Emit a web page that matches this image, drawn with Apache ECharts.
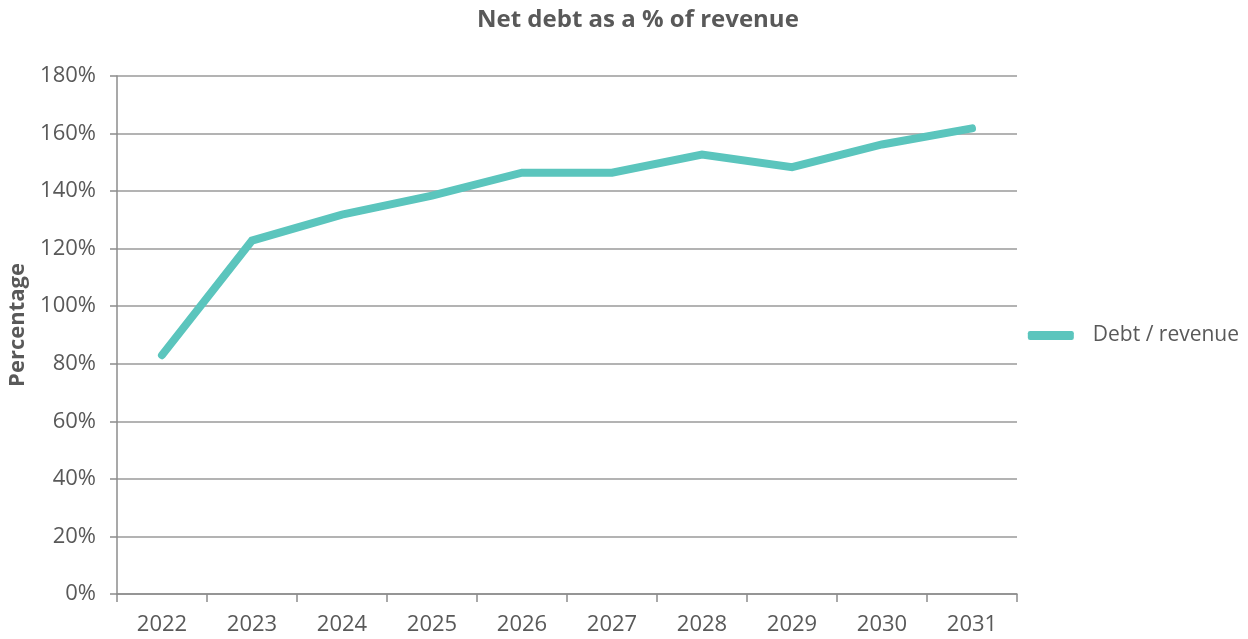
<!DOCTYPE html>
<html><head><meta charset="utf-8">
<script src="https://cdn.jsdelivr.net/npm/echarts@6/dist/echarts.min.js"></script>
<style>html,body{margin:0;padding:0;background:#fff}#c{width:1248px;height:639px}</style>
</head><body><div id="c"></div>
<script>
const years = ['2022','2023','2024','2025','2026','2027','2028','2029','2030','2031'];
const debtRevenue = [83.0, 122.8, 131.8, 138.4, 146.4, 146.4, 152.7, 148.3, 156.2, 161.8];
const seriesName = 'Debt / revenue';
const titleText = 'Net debt as a % of revenue';
const yName = 'Percentage';

const chart = echarts.init(document.getElementById('c'));
const txt = '#595959';
const axisCol = '#8c8c8c';
chart.setOption({
  animation: false,
  textStyle: {fontFamily: 'Open Sans'},
  title: {text: titleText, left: 472, top: 3,
    textStyle: {fontFamily: 'Open Sans', fontWeight: 'bold', fontSize: 24, color: '#595959'}},
  legend: {orient: 'vertical', right: 4, top: 320, itemWidth: 46, itemHeight: 9, itemGap: 10,
    textStyle: {fontFamily: 'Open Sans', fontSize: 21, color: txt, padding: [0,0,0,14]},
    data: [{name: seriesName, icon: 'roundRect'}]},
  grid: {left: 117, right: 231, top: 76, bottom: 45, containLabel: false, outerBoundsMode: 'none'},
  xAxis: {type: 'category', data: years, boundaryGap: true,
    axisLine: {lineStyle: {color: axisCol, width: 1.5}},
    axisTick: {show: true, length: 8, lineStyle: {color: axisCol, width: 1.5}},
    axisLabel: {color: txt, fontSize: 22, margin: 20, fontFamily: 'Open Sans'}},
  yAxis: {type: 'value', min: 0, max: 180, interval: 20, name: yName, nameLocation: 'middle', nameGap: 88,
    nameTextStyle: {fontFamily: 'Open Sans', fontWeight: 'bold', fontSize: 22, color: txt, padding: [0,0,0,20]},
    axisLine: {show: true, lineStyle: {color: axisCol, width: 1.5}},
    axisTick: {show: true, length: 7, lineStyle: {color: axisCol, width: 1.5}},
    splitLine: {lineStyle: {color: '#9a9a9a', width: 1.5}},
    axisLabel: {color: txt, fontSize: 22, margin: 21, formatter: v => v + '%', fontFamily: 'Open Sans'}},
  series: [{name: seriesName, type: 'line', data: debtRevenue, symbol: 'none',
    lineStyle: {color: '#5BC5BD', width: 8, cap: 'round', join: 'miter'},
    itemStyle: {color: '#5BC5BD'}}]
});
</script></body></html>
